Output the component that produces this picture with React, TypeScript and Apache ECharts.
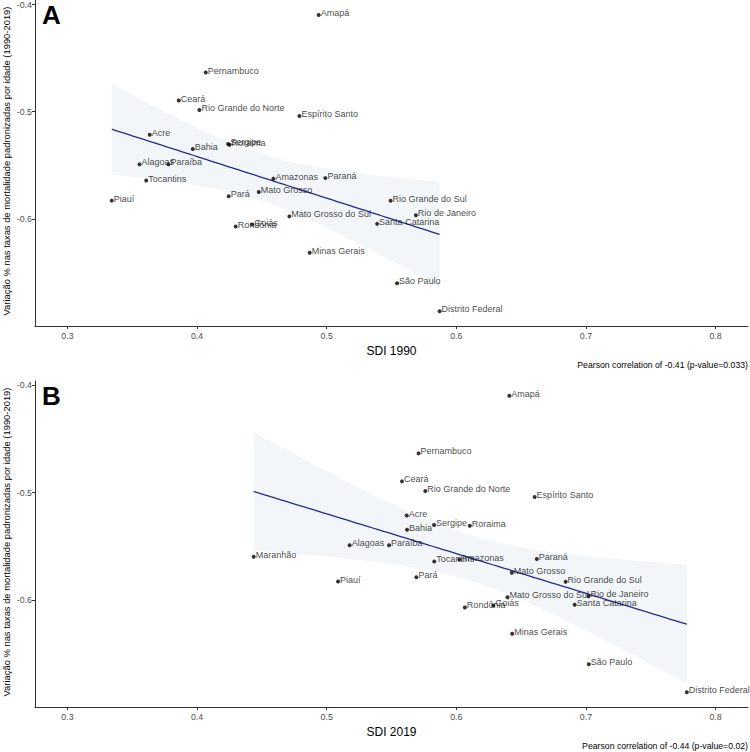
import React, { useEffect, useRef } from "react";
import * as echarts from "echarts";

const states = [
  "Acre", "Alagoas", "Amapá", "Amazonas", "Bahia", "Ceará", "Distrito Federal",
  "Espírito Santo", "Goiás", "Maranhão", "Mato Grosso", "Mato Grosso do Sul",
  "Minas Gerais", "Pará", "Paraíba", "Paraná", "Pernambuco", "Piauí",
  "Rio de Janeiro", "Rio Grande do Norte", "Rio Grande do Sul", "Rondônia",
  "Roraima", "Santa Catarina", "São Paulo", "Sergipe", "Tocantins",
];

const sdi1990: (number | null)[] = [
  0.3635, 0.3556, 0.4938, 0.4589, 0.3967, 0.3859, 0.5871,
  0.479, 0.4425, null, 0.4476, 0.4712,
  0.4869, 0.4244, 0.3779, 0.499, 0.4067, 0.3342,
  0.5688, 0.4018, 0.5493, 0.4298,
  0.425, 0.5389, 0.5543, 0.424, 0.3608,
];

const sdi2019 = [
  0.5617, 0.5177, 0.6409, 0.6023, 0.562, 0.5581, 0.7778,
  0.6604, 0.6285, 0.4437, 0.6428, 0.6395,
  0.6431, 0.5692, 0.5481, 0.6621, 0.5709, 0.5088,
  0.702, 0.5761, 0.6843, 0.6066,
  0.6104, 0.6913, 0.7022, 0.5828, 0.583,
];

const variation = [
  -0.5215, -0.5492, -0.4098, -0.5625, -0.5348, -0.4896, -0.6863,
  -0.5041, -0.6053, -0.5599, -0.5749, -0.5977,
  -0.6316, -0.579, -0.5492, -0.562, -0.4635, -0.583,
  -0.5967, -0.4985, -0.5832, -0.6072,
  -0.531, -0.6047, -0.6602, -0.5302, -0.5643,
];

const xTicks = [0.3, 0.4, 0.5, 0.6, 0.7, 0.8];
const yTicks = [-0.6, -0.5, -0.4];
const panelLetters = ["A", "B"];
const xTitles = ["SDI 1990", "SDI 2019"];
const pearsonTexts = [
  "Pearson correlation of -0.41 (p-value=0.033)",
  "Pearson correlation of -0.44 (p-value=0.02)",
];
const yTitle = "Variação % nas taxas de mortalidade padronizadas por idade (1990-2019)";

const T_CRIT: Record<number, number> = { 24: 2.064, 25: 2.06 };

function fitBand(xs: number[], ys: number[]) {
  const n = xs.length;
  const mx = xs.reduce((a, b) => a + b, 0) / n;
  const my = ys.reduce((a, b) => a + b, 0) / n;
  let sxx = 0, sxy = 0;
  for (let i = 0; i < n; i++) {
    sxx += (xs[i] - mx) ** 2;
    sxy += (xs[i] - mx) * (ys[i] - my);
  }
  const b = sxy / sxx;
  const a = my - b * mx;
  let sse = 0;
  for (let i = 0; i < n; i++) sse += (ys[i] - a - b * xs[i]) ** 2;
  const s = Math.sqrt(sse / (n - 2));
  const t = T_CRIT[n - 2] ?? 2.06;
  const xmin = Math.min(...xs), xmax = Math.max(...xs);
  const line: number[][] = [], upper: number[][] = [], lower: number[][] = [];
  const steps = 80;
  for (let k = 0; k <= steps; k++) {
    const x = xmin + ((xmax - xmin) * k) / steps;
    const y = a + b * x;
    const se = s * Math.sqrt(1 / n + (x - mx) ** 2 / sxx);
    line.push([x, y]);
    upper.push([x, y + t * se]);
    lower.push([x, y - t * se]);
  }
  return { line, upper, lower };
}

const FONT = "'Liberation Sans', Arial, sans-serif";

export default function App() {
  const ref = useRef<HTMLDivElement>(null);

  useEffect(() => {
    document.body.style.margin = "0";
    if (!ref.current) return;
    const chart = echarts.init(ref.current, null, { renderer: "svg" });

    const panels = [sdi1990, sdi2019].map((xsRaw) => {
      const pts: { name: string; value: number[] }[] = [];
      xsRaw.forEach((x, i) => {
        if (x !== null && x !== undefined) pts.push({ name: states[i], value: [x, variation[i]] });
      });
      const fit = fitBand(pts.map((p) => p.value[0]), pts.map((p) => p.value[1]));
      return { pts, fit };
    });

    const grids = [
      { left: 35, top: 0, width: 713, height: 326 },
      { left: 35, top: 381, width: 713, height: 326 },
    ];

    const axisLine = { show: true, lineStyle: { color: "#333", width: 1 } };
    const axisTick = { show: true, length: 3, lineStyle: { color: "#333", width: 1 } };

    const xAxis = grids.map((_, gi) => ({
      type: "value",
      gridIndex: gi,
      min: 0.275,
      max: 0.825,
      splitLine: { show: false },
      axisLine,
      axisTick: { ...axisTick, customValues: xTicks },
      axisLabel: {
        customValues: xTicks,
        formatter: (v: number) => v.toFixed(1),
        color: "#4d4d4d",
        fontSize: 8.8,
        fontFamily: FONT,
        margin: 5,
      },
    }));

    const yAxis = grids.map((_, gi) => ({
      type: "value",
      gridIndex: gi,
      min: -0.7,
      max: -0.396,
      splitLine: { show: false },
      axisLine,
      axisTick: { ...axisTick, customValues: yTicks },
      axisLabel: {
        customValues: yTicks,
        formatter: (v: number) => v.toFixed(1),
        color: "#4d4d4d",
        fontSize: 8.8,
        fontFamily: FONT,
        margin: 3,
      },
    }));

    const series: any[] = [];
    panels.forEach((p, gi) => {
      series.push({
        type: "custom",
        xAxisIndex: gi,
        yAxisIndex: gi,
        silent: true,
        z: 1,
        data: [0],
        renderItem: (_params: any, api: any) => {
          const pts = [
            ...p.fit.upper.map((q) => api.coord(q)),
            ...p.fit.lower.slice().reverse().map((q) => api.coord(q)),
          ];
          return { type: "polygon", shape: { points: pts }, style: { fill: "#f2f6f9" } };
        },
      });
      series.push({
        type: "line",
        xAxisIndex: gi,
        yAxisIndex: gi,
        data: p.fit.line,
        showSymbol: false,
        silent: true,
        z: 2,
        lineStyle: { color: "#262b8c", width: 1.3 },
      });
      series.push({
        type: "scatter",
        xAxisIndex: gi,
        yAxisIndex: gi,
        data: p.pts,
        symbol: "circle",
        symbolSize: 4,
        z: 3,
        itemStyle: { color: "#000" },
        label: {
          show: true,
          position: "right",
          distance: 0,
          offset: [0, -2],
          formatter: "{b}",
          color: "#111",
          fontSize: 9,
          fontFamily: FONT,
        },
      });
    });

    const graphic: any[] = [];
    grids.forEach((g, gi) => {
      graphic.push({
        type: "text",
        x: 42,
        y: g.top + 2,
        style: { text: panelLetters[gi], fontSize: 26, fontWeight: "bold", fontFamily: FONT, fill: "#000", align: "left", verticalAlign: "top" },
      });
      graphic.push({
        type: "text",
        x: g.left + g.width / 2,
        y: g.top + g.height + 25,
        style: { text: xTitles[gi], fontSize: 12, fontFamily: FONT, fill: "#000", align: "center", verticalAlign: "middle" },
      });
      graphic.push({
        type: "text",
        x: 748,
        y: g.top + g.height + 39,
        style: { text: pearsonTexts[gi], fontSize: 8.7, fontFamily: FONT, fill: "#000", align: "right", verticalAlign: "middle" },
      });
      graphic.push({
        type: "text",
        x: 6,
        y: g.top + g.height / 2 - 2,
        rotation: Math.PI / 2,
        style: { text: yTitle, fontSize: 9.4, fontFamily: FONT, fill: "#000", align: "center", verticalAlign: "middle" },
      });
    });

    chart.setOption({
      animation: false,
      grid: grids,
      xAxis,
      yAxis,
      series,
      graphic,
    });

    return () => chart.dispose();
  }, []);

  return <div ref={ref} style={{ width: 750, height: 752 }} />;
}
